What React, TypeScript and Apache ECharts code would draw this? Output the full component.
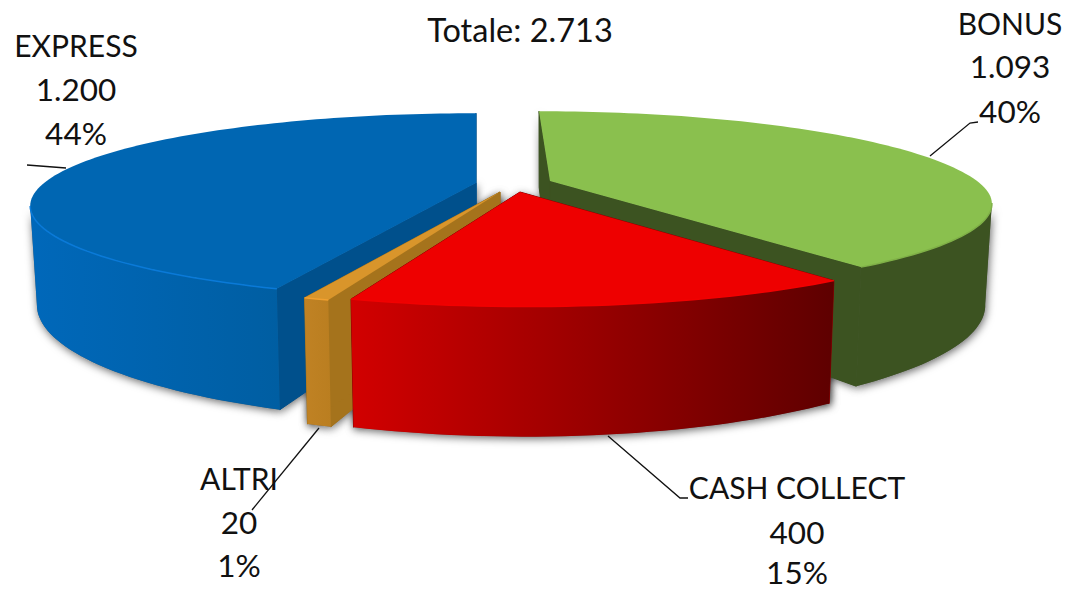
import React, { useEffect, useRef } from "react";
import * as echarts from "echarts";

// ---- data ----
const categories = ["BONUS", "CASH COLLECT", "ALTRI", "EXPRESS"];
const values = [1093, 400, 20, 1200];
const totalPrefix = "Totale: ";

// ---- styling / layout (not data) ----
const FONT = "Lato";
const NAME_SIZE = 30;
const NUM_SIZE = 31.5;
const TITLE_SIZE = 32.5;
const TILT = 0.247; // perspective strength
const SHRINK = 0.985; // bottom rim converges slightly

const slices = [
  { cx: 550, cy: 181, R: 427, Ry: 87, D: 95, skew: -11, near: 5, nearY: -4, order: 2, top: "#8AC04E", wall: "#3C5321", bevel: "#7FB047",
    side: ["#3C5321", "#3C5321"] },
  { cx: 520, cy: 192, R: 430, Ry: 87, D: 98, skew: 0, near: 6, nearY: -1, order: 4, top: "#EE0000", wall: "#8A0000", bevel: "#F20000",
    side: ["#D20000", "#5E0000"] },
  { cx: 500, cy: 192, R: 432, Ry: 87, D: 97, skew: 0, near: 4, nearY: 0, order: 3, top: "#D9952B", wall: "#A5731C", bevel: "#F0A030",
    side: ["#C08224", "#BA7E20"] },
  { cx: 476, cy: 183, R: 432, Ry: 87, D: 93, skew: 0, near: 0, nearY: 0, order: 1, top: "#0066B2", wall: "#00508C", bevel: "#0A7AD8",
    side: ["#0068BA", "#005EA2"] },
];

const labelLayout = [
  { x: 1010, ys: [23, 66, 111], leader: [[930, 156], [970, 123], [978, 122]] },
  { x: 797, ys: [487, 532, 572], leader: [[608, 436], [680, 498], [688, 498]] },
  { x: 239, ys: [478, 522, 565], leader: [[319, 428], [252, 510]] },
  { x: 76, ys: [45, 89, 133], leader: [[66, 168], [27, 165]] },
];

const total = values.reduce((a, b) => a + b, 0);
const fmt = (n: number) => String(n).replace(/\B(?=(\d{3})+(?!\d))/g, ".");
const rad = (d: number) => (d * Math.PI) / 180;

function project(g: any, deg: number, bottom: boolean): number[] {
  const c = Math.cos(rad(deg));
  const s = Math.sin(rad(deg));
  const w = 1 / (1 + TILT * c);
  let dx = g.R * s * w + g.skew * Math.max(0, c) + g.near * Math.max(0, -c);
  let y = g.cy - g.Ry * c * w + g.nearY * Math.max(0, -c);
  if (bottom) {
    dx *= SHRINK;
    y += g.D * w;
  }
  return [g.cx + dx, y];
}

function arc(g: any, a0: number, a1: number, bottom: boolean): number[][] {
  const pts: number[][] = [];
  const n = Math.max(2, Math.ceil((a1 - a0) / 1.5));
  for (let i = 0; i <= n; i++) pts.push(project(g, a0 + ((a1 - a0) * i) / n, bottom));
  return pts;
}

const SHADOW = { shadowColor: "rgba(0,0,0,0.6)", shadowBlur: 8, shadowOffsetX: 1, shadowOffsetY: 2 };

function renderItem(params: any) {
  const i = params.dataIndex;
  const g = slices[i];
  const before = values.slice(0, i).reduce((a, b) => a + b, 0);
  const a0 = (before / total) * 360;
  const a1 = ((before + values[i]) / total) * 360;
  const base = g.order * 10;
  const apexTop = [g.cx, g.cy];
  const apexBot = [g.cx, g.cy + g.D];
  const children: any[] = [];
  const wallPts = (a: number) => [apexTop, project(g, a, false), project(g, a, true), apexBot];

  const visLimit = (Math.acos(-TILT) * 180) / Math.PI;
  const s0 = Math.max(a0, visLimit);
  const s1 = Math.min(a1, 360 - visLimit);
  const sidePts = s1 > s0 ? [...arc(g, s0, s1, false), ...arc(g, s0, s1, true).reverse()] : null;

  // soft ground shadows sit under every slice
  [wallPts(a0), wallPts(a1), ...(sidePts ? [sidePts] : [])].forEach((points) => {
    children.push({
      type: "polygon",
      z2: 1,
      shape: { points },
      style: { fill: "#666666", ...SHADOW },
    });
  });

  children.push(
    { type: "polygon", z2: base, shape: { points: wallPts(a0) }, style: { fill: g.wall, stroke: g.wall, lineWidth: 1 } },
    { type: "polygon", z2: base + 1, shape: { points: wallPts(a1) }, style: { fill: g.wall, stroke: g.wall, lineWidth: 1 } }
  );
  if (sidePts) {
    children.push({
      type: "polygon",
      z2: base + 2,
      shape: { points: sidePts },
      style: {
        fill: new echarts.graphic.LinearGradient(0, 0, 1, 0, [
          { offset: 0, color: g.side[0] },
          { offset: 1, color: g.side[1] },
        ]),
      },
    });
  }
  children.push({
    type: "polygon",
    z2: base + 3,
    shape: { points: [apexTop, ...arc(g, a0, a1, false)] },
    style: { fill: g.top },
  });
  if (sidePts) {
    children.push({
      type: "polyline",
      z2: base + 4,
      shape: { points: arc(g, s0, s1, false) },
      style: { stroke: g.bevel, lineWidth: 1.5, fill: "none" },
    });
  }
  const lay = labelLayout[i];
  children.push({
    type: "polyline",
    z2: 100,
    shape: { points: lay.leader },
    style: { stroke: "#111111", lineWidth: 1.3, fill: "none" },
  });
  const lines = [
    categories[i],
    fmt(values[i]),
    `${Math.round((values[i] / total) * 100)}%`,
  ];
  lines.forEach((t, k) => {
    children.push({
      type: "text",
      z2: 101,
      x: lay.x,
      y: lay.ys[k],
      style: {
        text: t,
        fill: "#111111",
        font: `${k === 0 ? NAME_SIZE : NUM_SIZE}px ${FONT}`,
        align: "center",
        verticalAlign: "middle",
      },
    });
  });
  return { type: "group", children };
}

export default function App() {
  const ref = useRef<HTMLDivElement>(null);
  useEffect(() => {
    const chart = echarts.init(ref.current!, undefined, { renderer: "svg" });
    chart.setOption({
      animation: false,
      backgroundColor: "#ffffff",
      title: {
        text: `${totalPrefix}${fmt(total)}`,
        left: 515,
        top: 8,
        textAlign: "center",
        textStyle: { fontFamily: FONT, fontSize: TITLE_SIZE, fontWeight: "normal", color: "#111111" },
      },
      series: [
        {
          type: "custom",
          coordinateSystem: "none",
          silent: true,
          renderItem,
          data: values,
        },
      ],
    });
    return () => chart.dispose();
  }, []);
  return <div ref={ref} style={{ position: "fixed", left: 0, top: 0, width: 1066, height: 591 }} />;
}
